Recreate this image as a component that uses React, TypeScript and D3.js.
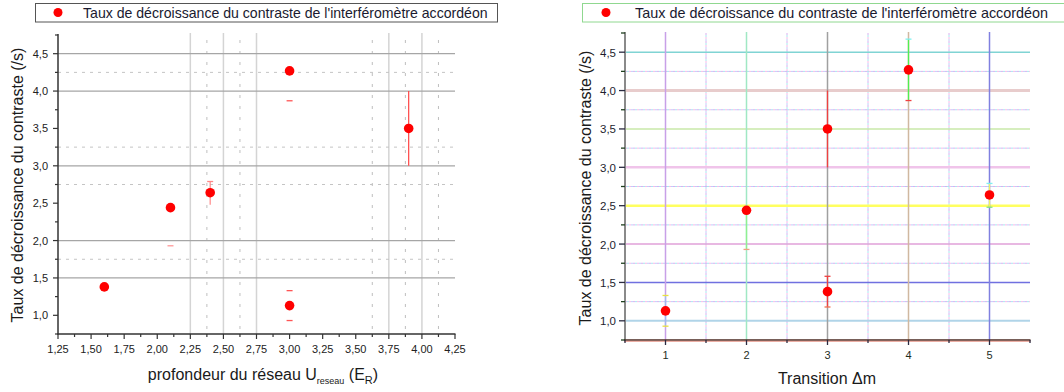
import React from "react";
import * as d3 from "d3";

// ---------- DATA ----------
const legendText = "Taux de décroissance du contraste de l'interféromètre accordéon";
const yTitle = "Taux de décroissance du contraste (/s)";

// Left chart: vs lattice depth
const leftX = [1.6, 2.1, 2.4, 3.0, 3.0, 3.9];
const leftY = [1.38, 2.44, 2.64, 4.27, 1.13, 3.5];
const leftErrLow: (number | null)[] = [null, 1.93, 2.48, 3.87, 0.93, 3.0];
const leftErrHigh: (number | null)[] = [null, null, 2.79, null, 1.33, 4.0];
const leftXTicks = [1.25, 1.5, 1.75, 2.0, 2.25, 2.5, 2.75, 3.0, 3.25, 3.5, 3.75, 4.0, 4.25];
const leftYTicks = [1.0, 1.5, 2.0, 2.5, 3.0, 3.5, 4.0, 4.5];
const leftHGridSolid = [1.5, 2.0, 3.0, 4.0, 4.5];
const leftHGridDash = [1.75, 2.75, 3.25, 4.25];
const leftVGridSolid = [2.25, 2.5, 2.75, 3.75, 4.0];
const leftVGridDash = [2.375, 2.625, 3.625, 3.875, 4.125];

// Right chart: vs transition Δm
const rightX = [1, 2, 3, 3, 4, 5];
const rightY = [1.13, 2.44, 3.5, 1.38, 4.27, 2.64];
const rightErrLow: (number | null)[] = [0.93, 1.93, 3.0, 1.18, 3.87, 2.48];
const rightErrHigh: (number | null)[] = [1.33, null, 4.0, 1.58, 4.67, 2.79];
const rightXTicks = [1, 2, 3, 4, 5];
const rightYTicks = [1.0, 1.5, 2.0, 2.5, 3.0, 3.5, 4.0, 4.5];
const rightHGridSolid = [1.0, 1.5, 2.0, 2.5, 3.0, 3.5, 4.0, 4.5];
const rightHGridDash = [1.25, 1.75, 2.25, 2.75, 3.25, 3.75, 4.25];
const rightVGridSolid = [1, 2, 3, 4, 5];
const rightVGridDash = [1.5, 2.5, 3.5, 4.5];

// ---------- STYLE ----------
const FONT = "Arial, 'Liberation Sans', sans-serif";
const leftStem = [false, false, true, false, false, true];
const leftCapLowShow = [false, true, false, true, true, false];
const leftCapHighShow = [false, false, true, false, true, false];
const leftStemColor = ["#f55", "#f99", "#f88", "#f55", "#f55", "#f44"];
const rightHColors = ["#b0d4e8", "#7070e0", "#e0a0d8", "#ffff60", "#f0c4ea", "#c8e8a8", "#e8cccc", "#80d4d4"];
const rightHWidths = [2, 1.5, 1.5, 2.5, 2.5, 1.5, 3, 1.5];
const rightVColors = ["#c8a0e8", "#a0e8c4", "#a0a0a0", "#d0b8a0", "#8080e0"];
const rightStemColor = ["#a0b8f0", "#90f090", "#f04040", "#f04040", "#50f050", "#f0f060"];
const rightCapLow = ["#e8e040", "#f0a080", "#f04040", "#f07050", "#f04040", "#80e080"];
const rightCapHigh = ["#e8e040", "#f0a080", "#f04040", "#f04040", "#80f0f0", "#80f0f0"];
const dashColors = ["#d8b0f0", "#a8e8f0", "#f8b8e8", "#c0d0f8"];

const fmt = (v: number, d: number) => d3.format(`.${d}f`)(v).replace(".", ",");

function MultiDashH({ x1, x2, y }: { x1: number; x2: number; y: number }) {
  return (
    <g>
      {dashColors.map((c, i) => (
        <line key={i} x1={x1} x2={x2} y1={y} y2={y} stroke={c} strokeWidth={1}
          strokeDasharray="2,6" strokeDashoffset={-i * 2} />
      ))}
    </g>
  );
}
function MultiDashV({ y1, y2, x }: { y1: number; y2: number; x: number }) {
  return (
    <g>
      {dashColors.map((c, i) => (
        <line key={i} x1={x} x2={x} y1={y1} y2={y2} stroke={c} strokeWidth={1}
          strokeDasharray="2,6" strokeDashoffset={-i * 2} />
      ))}
    </g>
  );
}

export default function App() {
  // Left scales
  const xL = d3.scaleLinear().domain([1.25, 4.25]).range([58, 455]);
  const yL = d3.scaleLinear().domain([0.75, 4.75]).range([334, 35]);
  // Right scales
  const xR = d3.scaleLinear().domain([0.5, 5.5]).range([625, 1030]);
  const yR = d3.scaleLinear().domain([0.75, 4.75]).range([340, 33]);

  const leftMinorX = d3.range(1.375, 4.25, 0.25);
  const leftMinorY = d3.range(0.75, 4.76, 0.25).filter((v) => Math.abs((v * 2) % 1) > 0.01);
  const rightMinorX = d3.range(0.5, 5.51, 1);
  const rightMinorY = d3.range(0.75, 4.76, 0.5);

  const capW = 3;

  return (
    <svg width={1064} height={392} style={{ position: "absolute", left: 0, top: 0, background: "#fff" }}
      fontFamily={FONT}>
      <rect width={1064} height={392} fill="#fff" />

      {/* ===================== LEFT CHART ===================== */}
      <g>
        {/* legend */}
        <rect x={35.5} y={3.5} width={462} height={18.5} fill="#fff" stroke="#555" strokeWidth={1} />
        <circle cx={58} cy={12.5} r={4.5} fill="#f00" />
        <text x={83} y={17.5} fontSize={14.1} fill="#1a1a30">{legendText}</text>

        {/* grid */}
        {leftVGridSolid.map((v) => (
          <line key={"lvs" + v} x1={xL(v)} x2={xL(v)} y1={33} y2={334} stroke="#d4d4d4" strokeWidth={1.5} />
        ))}
        {leftVGridDash.map((v) => (
          <line key={"lvd" + v} x1={xL(v)} x2={xL(v)} y1={40} y2={334} stroke="#bfbfbf" strokeWidth={1}
            strokeDasharray="3,8" />
        ))}
        {leftHGridSolid.map((v) => (
          <line key={"lhs" + v} x1={58} x2={455} y1={yL(v)} y2={yL(v)} stroke="#a6a6a6" strokeWidth={1.2} />
        ))}
        {leftHGridDash.map((v) => (
          <line key={"lhd" + v} x1={58} x2={455} y1={yL(v)} y2={yL(v)} stroke="#c4c4c4" strokeWidth={1}
            strokeDasharray="3,5" />
        ))}

        {/* axes */}
        <line x1={58} x2={58} y1={34} y2={334.5} stroke="#333" strokeWidth={1.5} />
        <line x1={57.5} x2={455.5} y1={334} y2={334} stroke="#333" strokeWidth={1.5} />
        {leftYTicks.map((v) => (
          <g key={"lyt" + v}>
            <line x1={53} x2={58} y1={yL(v)} y2={yL(v)} stroke="#333" strokeWidth={1.2} />
            <text x={48} y={yL(v) + 4} fontSize={11} textAnchor="end" fill="#222">{fmt(v, 1)}</text>
          </g>
        ))}
        {leftMinorY.map((v) => (
          <line key={"lym" + v} x1={55} x2={58} y1={yL(v)} y2={yL(v)} stroke="#333" strokeWidth={1.2} />
        ))}
        {leftXTicks.map((v) => (
          <g key={"lxt" + v}>
            <line x1={xL(v)} x2={xL(v)} y1={334} y2={339} stroke="#333" strokeWidth={1.2} />
            <text x={xL(v)} y={353} fontSize={11} textAnchor="middle" fill="#222">{fmt(v, 2)}</text>
          </g>
        ))}
        {leftMinorX.map((v) => (
          <line key={"lxm" + v} x1={xL(v)} x2={xL(v)} y1={334} y2={337} stroke="#333" strokeWidth={1.2} />
        ))}

        {/* error bars */}
        {leftX.map((x, i) => {
          const lo = leftErrLow[i];
          const hi = leftErrHigh[i];
          const cx = xL(x);
          return (
            <g key={"le" + i}>
              {leftStem[i] && lo != null && (
                <line x1={cx} x2={cx} y1={yL(lo)} y2={yL(hi != null ? hi : leftY[i])} stroke={leftStemColor[i]} strokeWidth={1.2} />
              )}
              {lo != null && leftCapLowShow[i] && (
                <line x1={cx - capW} x2={cx + capW} y1={yL(lo)} y2={yL(lo)} stroke={leftStemColor[i]} strokeWidth={1.3} />
              )}
              {hi != null && leftCapHighShow[i] && (
                <line x1={cx - capW} x2={cx + capW} y1={yL(hi)} y2={yL(hi)} stroke={leftStemColor[i]} strokeWidth={1.3} />
              )}
            </g>
          );
        })}
        {leftX.map((x, i) => (
          <circle key={"lp" + i} cx={xL(x)} cy={yL(leftY[i])} r={4.8} fill="#f00" />
        ))}

        {/* titles */}
        <text transform="translate(23,185) rotate(-90)" fontSize={16} textAnchor="middle" fill="#1a1a1a">{yTitle}</text>
        <text x={263} y={380} fontSize={16} textAnchor="middle" fill="#1a1a1a">
          profondeur du réseau U<tspan fontSize={9} dy={4}>reseau</tspan>
          <tspan dy={-4}> (E</tspan><tspan fontSize={11} dy={4}>R</tspan><tspan dy={-4}>)</tspan>
        </text>
      </g>

      {/* ===================== RIGHT CHART ===================== */}
      <g>
        {/* legend */}
        <rect x={582.5} y={3.5} width={500} height={18.5} fill="#fff" stroke="#90d890" strokeWidth={1} />
        <circle cx={606} cy={12.5} r={4.5} fill="#f00" />
        <text x={635} y={17.5} fontSize={14.4} fill="#1a1a30">{legendText}</text>

        {/* grid */}
        {rightVGridDash.map((v) => (
          <MultiDashV key={"rvd" + v} x={xR(v)} y1={33} y2={340} />
        ))}
        {rightHGridDash.map((v) => (
          <MultiDashH key={"rhd" + v} x1={625} x2={1030} y={yR(v)} />
        ))}
        {rightHGridSolid.map((v, i) => (
          <line key={"rhs" + v} x1={625} x2={1030} y1={yR(v)} y2={yR(v)} stroke={rightHColors[i]} strokeWidth={rightHWidths[i]} />
        ))}
        {rightVGridSolid.map((v, i) => (
          <line key={"rvs" + v} x1={xR(v)} x2={xR(v)} y1={32} y2={340} stroke={rightVColors[i]} strokeWidth={1.5} />
        ))}

        {/* axes */}
        <line x1={625} x2={625} y1={32} y2={341} stroke="#8a8a8a" strokeWidth={2} />
        <line x1={624} x2={1030.5} y1={340} y2={340} stroke="#4a2a22" strokeWidth={1.5} />
        <line x1={624} x2={1030.5} y1={341.3} y2={341.3} stroke="#e08070" strokeWidth={0.8} />
        {rightYTicks.map((v) => (
          <g key={"ryt" + v}>
            <line x1={619} x2={625} y1={yR(v)} y2={yR(v)} stroke="#2a2a40" strokeWidth={1.3} />
            <text x={616} y={yR(v) + 4.5} fontSize={11.5} textAnchor="end" fill="#1e1e2e">{fmt(v, 1)}</text>
          </g>
        ))}
        {rightMinorY.map((v) => (
          <line key={"rym" + v} x1={621} x2={625} y1={yR(v)} y2={yR(v)} stroke="#204020" strokeWidth={1.3} />
        ))}
        {rightXTicks.map((v) => (
          <g key={"rxt" + v}>
            <line x1={xR(v)} x2={xR(v)} y1={340} y2={345} stroke="#2a2a40" strokeWidth={1.3} />
            <text x={xR(v)} y={359} fontSize={11} textAnchor="middle" fill="#1e2e1e">{v}</text>
          </g>
        ))}
        {rightMinorX.map((v) => (
          <line key={"rxm" + v} x1={xR(v)} x2={xR(v)} y1={340} y2={343} stroke="#2a2a40" strokeWidth={1.3} />
        ))}

        {/* error bars */}
        {rightX.map((x, i) => {
          const lo = rightErrLow[i];
          const hi = rightErrHigh[i];
          const cx = xR(x);
          return (
            <g key={"re" + i}>
              {lo != null && (
                <line x1={cx} x2={cx} y1={yR(lo)} y2={yR(hi != null ? hi : rightY[i])} stroke={rightStemColor[i]} strokeWidth={1.3} />
              )}
              {lo != null && i !== 2 && (
                <line x1={cx - capW} x2={cx + capW} y1={yR(lo)} y2={yR(lo)} stroke={rightCapLow[i]} strokeWidth={1.3} />
              )}
              {hi != null && i !== 2 && (
                <line x1={cx - capW} x2={cx + capW} y1={yR(hi)} y2={yR(hi)} stroke={rightCapHigh[i]} strokeWidth={1.3} />
              )}
            </g>
          );
        })}
        {rightX.map((x, i) => (
          <circle key={"rp" + i} cx={xR(x)} cy={yR(rightY[i])} r={4.8} fill="#f00" />
        ))}

        {/* titles */}
        <text transform="translate(591,188) rotate(-90)" fontSize={16} textAnchor="middle" fill="#1a1a1a">{yTitle}</text>
        <text x={827} y={384} fontSize={16} textAnchor="middle" fill="#1a1a1a">Transition Δm</text>
      </g>
    </svg>
  );
}
